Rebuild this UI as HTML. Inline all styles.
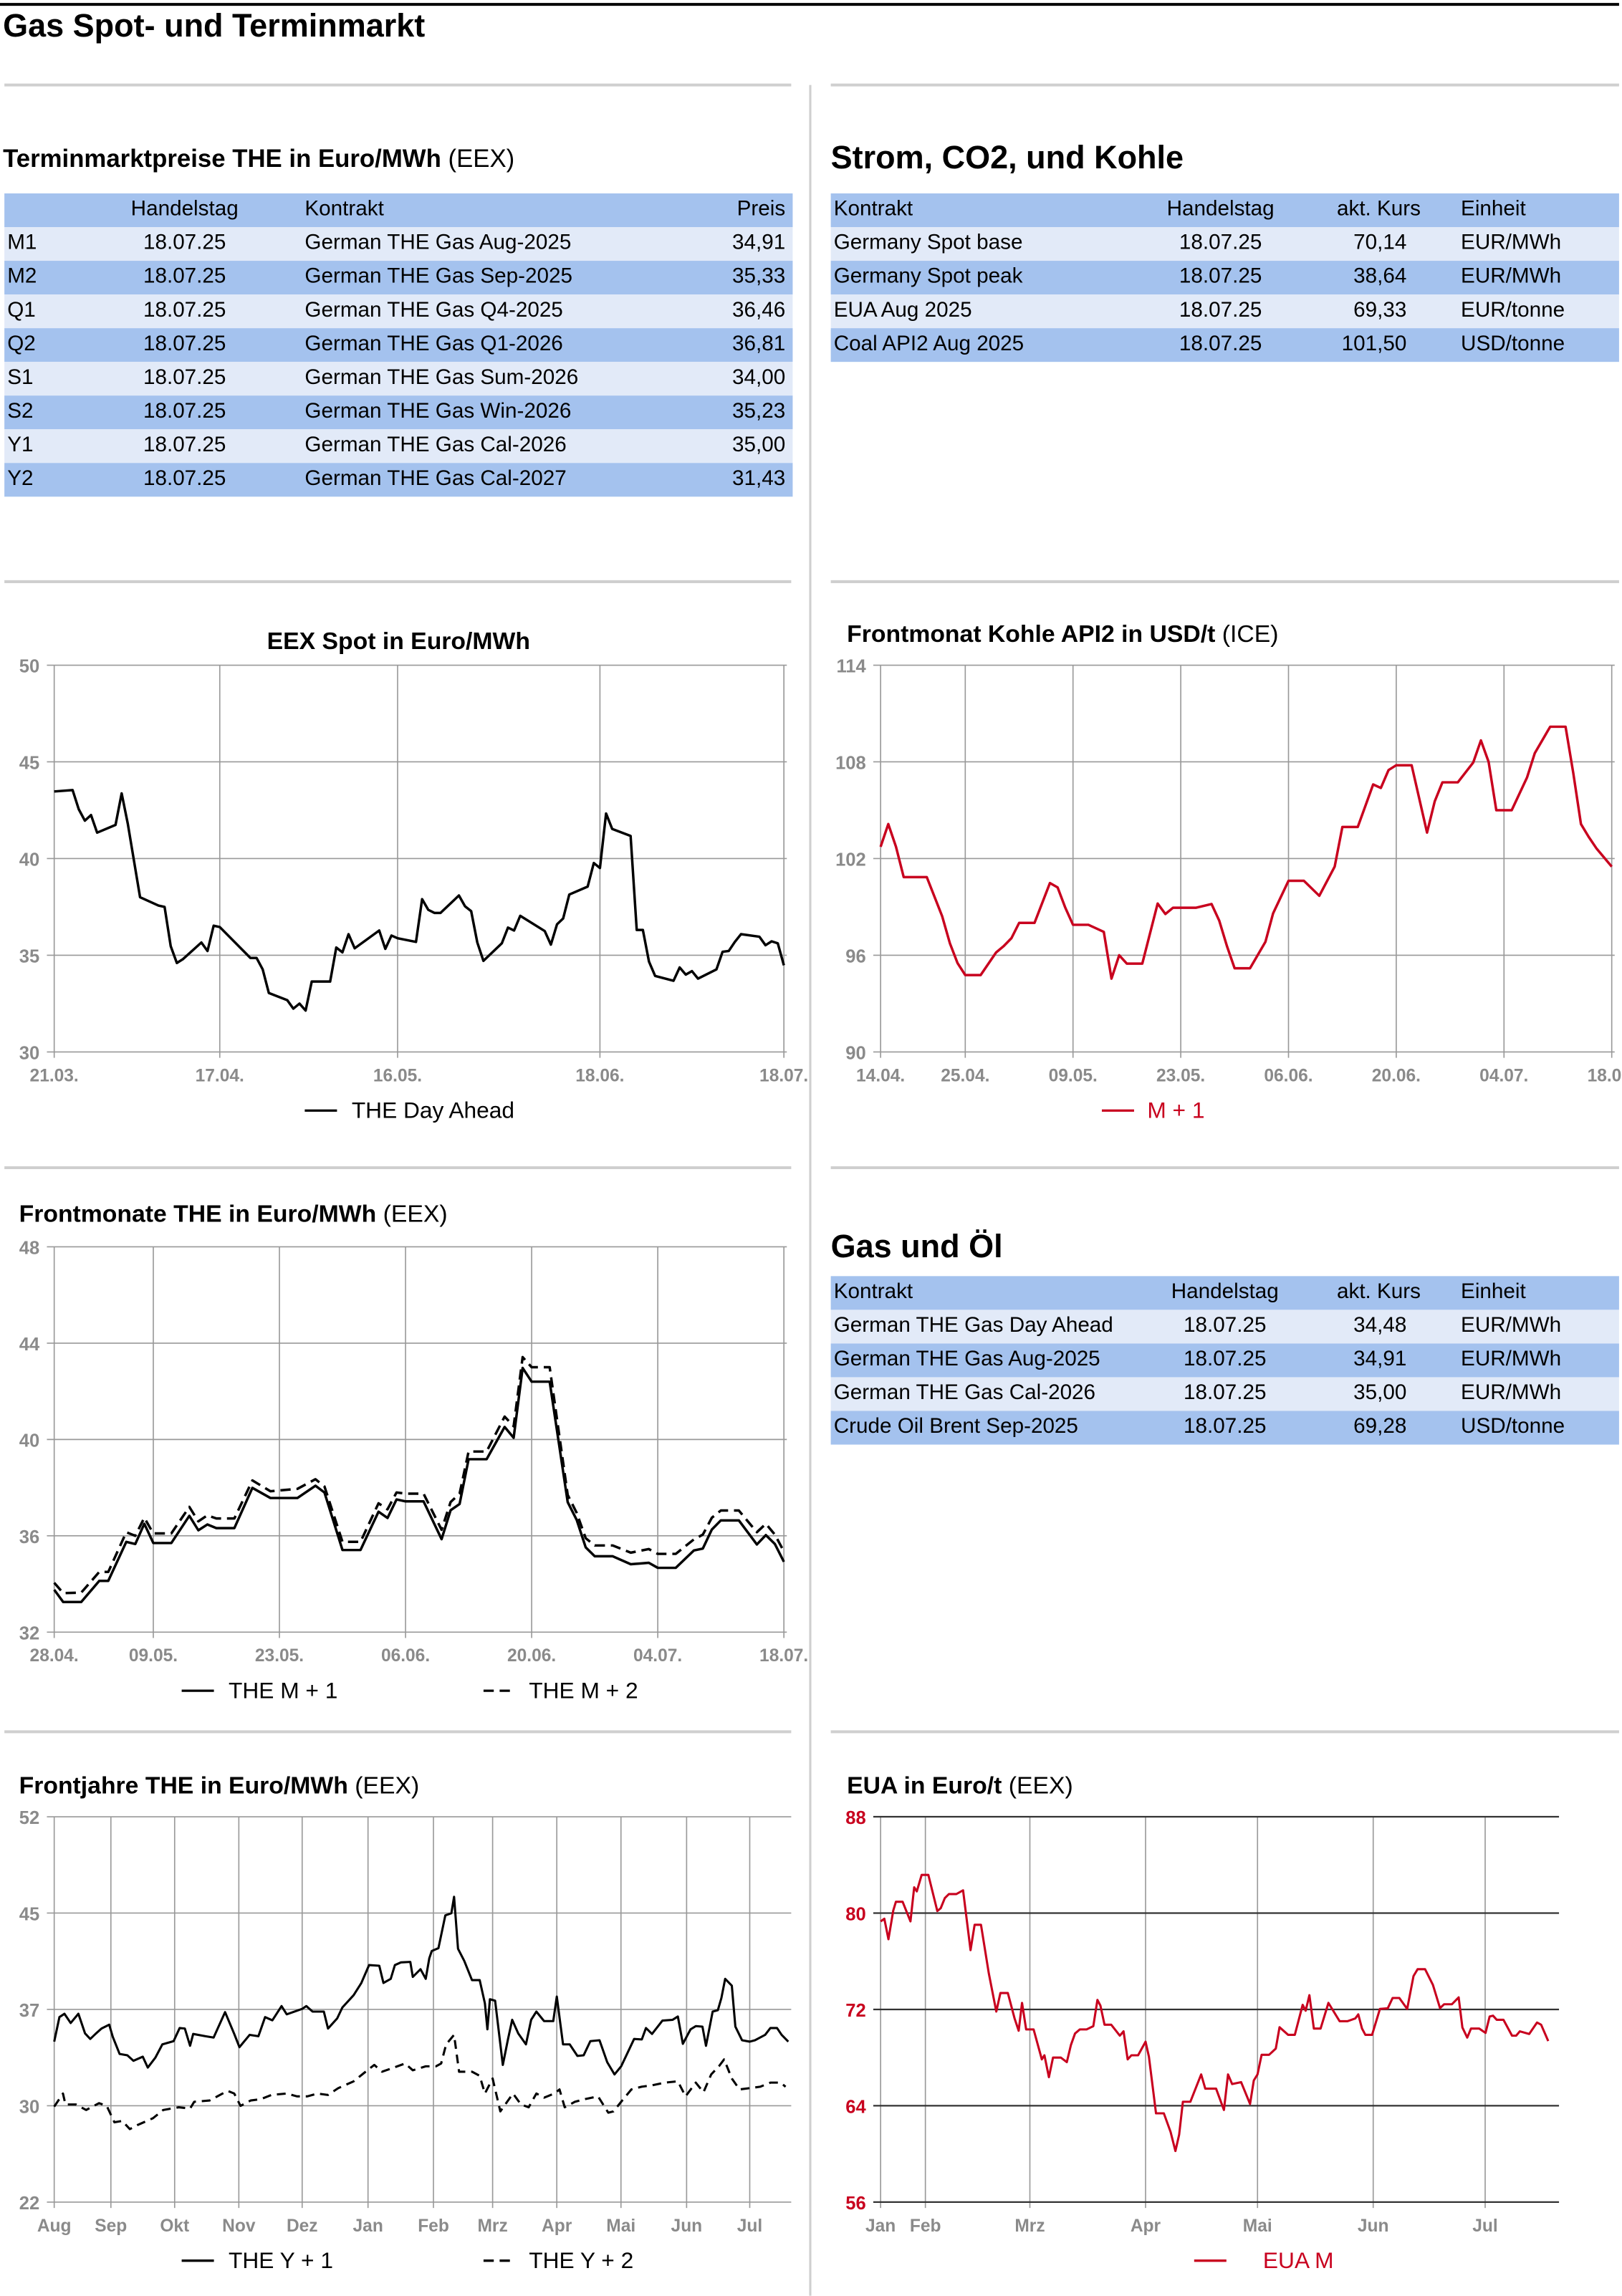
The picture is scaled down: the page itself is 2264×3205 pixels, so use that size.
<!DOCTYPE html>
<html><head><meta charset="utf-8">
<style>
html,body{margin:0;padding:0;background:#fff;}
body{width:2264px;height:3204px;overflow:hidden;position:relative;}
#root{position:absolute;left:0;top:0;width:1107px;height:1567px;transform:scale(2.04517);transform-origin:0 0;font-family:"Liberation Sans",sans-serif;color:#000;}
.t{position:absolute;white-space:nowrap;}
.row{position:absolute;height:23px;line-height:23px;font-size:14.5px;}
.row span{position:absolute;top:0;white-space:nowrap;}
.hb{background:#a4c2ee;}
.lb{background:#e2eaf8;}
.c{transform:translateX(-50%);}
.r{transform:translateX(-100%);}
svg text{font-family:"Liberation Sans",sans-serif;}
</style></head>
<body>
<div id="root">
<svg id="chart-svg" width="1107" height="1567" viewBox="0 0 1107 1567" style="position:absolute;left:0;top:0">
  <line x1="0" y1="3" x2="1105" y2="3" stroke="#000" stroke-width="2"/>
  <g stroke="#cfcfcf" stroke-width="2">
    <line x1="3" y1="58" x2="540" y2="58"/><line x1="567" y1="58" x2="1105" y2="58"/>
    <line x1="3" y1="397" x2="540" y2="397"/><line x1="567" y1="397" x2="1105" y2="397"/>
    <line x1="3" y1="797" x2="540" y2="797"/><line x1="567" y1="797" x2="1105" y2="797"/>
    <line x1="3" y1="1182" x2="540" y2="1182"/><line x1="567" y1="1182" x2="1105" y2="1182"/>
    <line x1="553" y1="58" x2="553" y2="1567" stroke-width="1.5"/>
  </g>
  <g id="charts"></g>
</svg>

<div class="t" style="left:2px;top:5px;font-size:22px;font-weight:bold">Gas Spot- und Terminmarkt</div>

<div class="t" style="left:2px;top:99px;font-size:17px"><b>Terminmarktpreise THE in Euro/MWh</b> (EEX)</div>
<div>
<div class="row hb" style="left:3px;top:132px;width:538px"><span class="c" style="left:123px">Handelstag</span><span style="left:205px">Kontrakt</span><span class="r" style="left:533px">Preis</span></div>
<div class="row lb" style="left:3px;top:155px;width:538px"><span style="left:2px">M1</span><span class="c" style="left:123px">18.07.25</span><span style="left:205px">German THE Gas Aug-2025</span><span class="r" style="left:533px">34,91</span></div>
<div class="row hb" style="left:3px;top:178px;width:538px"><span style="left:2px">M2</span><span class="c" style="left:123px">18.07.25</span><span style="left:205px">German THE Gas Sep-2025</span><span class="r" style="left:533px">35,33</span></div>
<div class="row lb" style="left:3px;top:201px;width:538px"><span style="left:2px">Q1</span><span class="c" style="left:123px">18.07.25</span><span style="left:205px">German THE Gas Q4-2025</span><span class="r" style="left:533px">36,46</span></div>
<div class="row hb" style="left:3px;top:224px;width:538px"><span style="left:2px">Q2</span><span class="c" style="left:123px">18.07.25</span><span style="left:205px">German THE Gas Q1-2026</span><span class="r" style="left:533px">36,81</span></div>
<div class="row lb" style="left:3px;top:247px;width:538px"><span style="left:2px">S1</span><span class="c" style="left:123px">18.07.25</span><span style="left:205px">German THE Gas Sum-2026</span><span class="r" style="left:533px">34,00</span></div>
<div class="row hb" style="left:3px;top:270px;width:538px"><span style="left:2px">S2</span><span class="c" style="left:123px">18.07.25</span><span style="left:205px">German THE Gas Win-2026</span><span class="r" style="left:533px">35,23</span></div>
<div class="row lb" style="left:3px;top:293px;width:538px"><span style="left:2px">Y1</span><span class="c" style="left:123px">18.07.25</span><span style="left:205px">German THE Gas Cal-2026</span><span class="r" style="left:533px">35,00</span></div>
<div class="row hb" style="left:3px;top:316px;width:538px"><span style="left:2px">Y2</span><span class="c" style="left:123px">18.07.25</span><span style="left:205px">German THE Gas Cal-2027</span><span class="r" style="left:533px">31,43</span></div>
</div>

<div class="t" style="left:567px;top:95px;font-size:22px;font-weight:bold">Strom, CO2, und Kohle</div>
<div>
<div class="row hb" style="left:567px;top:132px;width:538px"><span style="left:2px">Kontrakt</span><span class="c" style="left:266px">Handelstag</span><span class="c" style="left:374px">akt. Kurs</span><span style="left:430px">Einheit</span></div>
<div class="row lb" style="left:567px;top:155px;width:538px"><span style="left:2px">Germany Spot base</span><span class="c" style="left:266px">18.07.25</span><span class="r" style="left:393px">70,14</span><span style="left:430px">EUR/MWh</span></div>
<div class="row hb" style="left:567px;top:178px;width:538px"><span style="left:2px">Germany Spot peak</span><span class="c" style="left:266px">18.07.25</span><span class="r" style="left:393px">38,64</span><span style="left:430px">EUR/MWh</span></div>
<div class="row lb" style="left:567px;top:201px;width:538px"><span style="left:2px">EUA Aug 2025</span><span class="c" style="left:266px">18.07.25</span><span class="r" style="left:393px">69,33</span><span style="left:430px">EUR/tonne</span></div>
<div class="row hb" style="left:567px;top:224px;width:538px"><span style="left:2px">Coal API2 Aug 2025</span><span class="c" style="left:266px">18.07.25</span><span class="r" style="left:393px">101,50</span><span style="left:430px">USD/tonne</span></div>
</div>

<div class="t" style="left:567px;top:838px;font-size:22px;font-weight:bold">Gas und Öl</div>
<div>
<div class="row hb" style="left:567px;top:871px;width:538px"><span style="left:2px">Kontrakt</span><span class="c" style="left:269px">Handelstag</span><span class="c" style="left:374px">akt. Kurs</span><span style="left:430px">Einheit</span></div>
<div class="row lb" style="left:567px;top:894px;width:538px"><span style="left:2px">German THE Gas Day Ahead</span><span class="c" style="left:269px">18.07.25</span><span class="r" style="left:393px">34,48</span><span style="left:430px">EUR/MWh</span></div>
<div class="row hb" style="left:567px;top:917px;width:538px"><span style="left:2px">German THE Gas Aug-2025</span><span class="c" style="left:269px">18.07.25</span><span class="r" style="left:393px">34,91</span><span style="left:430px">EUR/MWh</span></div>
<div class="row lb" style="left:567px;top:940px;width:538px"><span style="left:2px">German THE Gas Cal-2026</span><span class="c" style="left:269px">18.07.25</span><span class="r" style="left:393px">35,00</span><span style="left:430px">EUR/MWh</span></div>
<div class="row hb" style="left:567px;top:963px;width:538px"><span style="left:2px">Crude Oil Brent Sep-2025</span><span class="c" style="left:269px">18.07.25</span><span class="r" style="left:393px">69,28</span><span style="left:430px">USD/tonne</span></div>
</div>

<div class="t" style="left:272px;top:429px;font-size:16.5px;font-weight:bold;transform:translateX(-50%)">EEX Spot in Euro/MWh</div>
<div class="t" style="left:578px;top:424px;font-size:16.5px"><b>Frontmonat Kohle API2 in USD/t</b> (ICE)</div>
<div class="t" style="left:13px;top:820px;font-size:16.5px"><b>Frontmonate THE in Euro/MWh</b> (EEX)</div>
<div class="t" style="left:13px;top:1210px;font-size:16.5px"><b>Frontjahre THE in Euro/MWh</b> (EEX)</div>
<div class="t" style="left:578px;top:1210px;font-size:16.5px"><b>EUA in Euro/t</b> (EEX)</div>
</div>

<script>
// ---- EEX Spot (days since 21.03) ----
const spotDays = [0,3,4,5,6,7,10,11,12,14,17,18,19,20,21,24,25,26,27,32,33,34,35,38,39,40,41,42,45,46,47,48,49,53,54,55,56,59,60,61,62,63,66,67,68,69,70,73,74,75,76,80,81,82,83,84,87,88,89,90,91,94,95,96,97,98,101,102,103,104,105,108,109,110,111,112,115,116,117,118,119];
const spotVals = [43.47,43.54,42.55,41.96,42.25,41.34,41.74,43.37,41.8,38.0,37.57,37.5,35.47,34.6,34.8,35.66,35.22,36.53,36.46,34.86,34.86,34.27,33.05,32.68,32.24,32.5,32.14,33.64,33.64,35.4,35.15,36.09,35.36,36.28,35.33,36.02,35.88,35.69,37.9,37.35,37.19,37.19,38.09,37.53,37.28,35.66,34.71,35.62,36.43,36.28,37.04,36.25,35.55,36.6,36.9,38.14,38.55,39.77,39.51,42.33,41.53,41.17,36.31,36.31,34.67,33.93,33.68,34.37,34.0,34.18,33.79,34.27,35.18,35.22,35.69,36.09,35.96,35.52,35.72,35.62,34.48];
const spotTickDays = [0,27,56,89,119];
const spotTickLabels = ["21.03.","17.04.","16.05.","18.06.","18.07."];
const spotYTicks = [30,35,40,45,50];

// ---- Coal API2 (days since 14.04) ----
const coalDays = [0,1,2,3,6,8,9,10,11,13,15,16,17,18,20,22,23,24,25,27,29,30,31,32,34,36,37,38,41,43,44,45,46,48,50,51,53,55,57,59,60,62,64,65,66,67,69,71,72,73,75,77,78,79,80,82,84,85,87,89,90,91,92,93,95];
const coalVals = [102.73,104.14,102.73,100.85,100.85,98.42,96.75,95.51,94.77,94.77,96.17,96.57,97.06,98.01,98.01,100.48,100.21,98.95,97.89,97.89,97.45,94.55,96.0,95.48,95.48,99.21,98.56,98.95,98.95,99.18,98.15,96.57,95.19,95.19,96.83,98.6,100.62,100.62,99.69,101.5,103.96,103.96,106.6,106.38,107.49,107.79,107.79,103.61,105.55,106.73,106.73,107.96,109.33,108.0,105.0,105.0,107.04,108.54,110.18,110.18,107.31,104.14,103.35,102.64,101.5];
const coalTickDays = [0,11,25,39,53,67,81,95];
const coalTickLabels = ["14.04.","25.04.","09.05.","23.05.","06.06.","20.06.","04.07.","18.07."];
const coalYTicks = [90,96,102,108,114];

// ---- Frontmonate (days since 28.04) ----
const fmDays = [0,1,3,5,6,8,9,10,11,13,15,16,17,18,20,22,24,27,29,30,32,34,36,37,38,39,41,43,44,45,46,48,50,51,52,53,55,57,58,59,60,62,64,66,67,69,71,72,73,74,76,78,79,80,81];
const fmM1 = [33.76,33.25,33.25,34.13,34.13,35.75,35.66,36.5,35.7,35.7,36.83,36.23,36.47,36.32,36.32,37.99,37.57,37.57,38.08,37.8,35.41,35.41,37.0,36.74,37.51,37.43,37.43,35.86,37.06,37.32,39.18,39.18,40.52,40.07,42.97,42.4,42.4,37.4,36.66,35.52,35.15,35.15,34.82,34.88,34.67,34.67,35.39,35.47,36.26,36.64,36.64,35.64,36.03,35.66,34.92];
const fmM2 = [34.05,33.62,33.64,34.5,34.5,36.15,36.0,36.75,36.1,36.1,37.2,36.6,36.85,36.72,36.72,38.3,37.85,37.95,38.35,38.05,35.75,35.75,37.35,37.1,37.8,37.75,37.75,36.25,37.4,37.75,39.5,39.5,40.95,40.55,43.42,43.0,43.0,37.7,36.95,35.9,35.6,35.6,35.3,35.45,35.25,35.25,35.85,36.05,36.75,37.05,37.05,36.15,36.5,36.05,35.35];
const fmTickDays = [0,11,25,39,53,67,81];
const fmTickLabels = ["28.04.","09.05.","23.05.","06.06.","20.06.","04.07.","18.07."];
const fmYTicks = [32,36,40,44,48];

// ---- Frontjahre (days since 01.08.) ----
const fyDays1 = [0,2.5,4.9,7.9,11.6,14.8,17.3,19.8,22.7,26.4,28.1,31.4,35.1,38,42.5,44.9,48.6,51.9,57.3,60.2,62.7,65.2,66.7,72.6,76.5,82,86.4,88.9,93.8,98,101.2,104.7,109.1,111.6,119,121,124,129.4,131.4,135.8,138.3,143.7,147.4,151.1,156,158,161.5,163.5,166.4,170.9,172.1,175.8,178.3,180,181.2,184.4,187.7,190.6,191.9,193.8,196.8,200.5,204.2,206.7,207.9,209.1,211.6,215.3,217.8,219.8,222.7,226.4,228.9,231.4,235.1,239.5,241.2,244.2,247.4,251.1,254.1,257.3,261.7,265.4,268.9,272.1,278.3,282,284,286.9,291.9,296.8,299.3,301.7,305.4,307.9,311.1,312.8,316,318.5,320.2,322,325.2,326.9,330.1,333.8,336.3,341.2,343.7,346.9,349.1,352.3];
const fyY1 = [34.49,36.4,36.66,35.94,36.66,35.13,34.7,35.09,35.51,35.81,34.87,33.53,33.43,33.0,33.32,32.47,33.26,34.28,34.53,35.55,35.51,34.17,35.09,34.91,34.81,36.79,35.09,34.06,35.02,34.91,36.4,36.15,37.26,36.62,37.04,37.26,36.83,36.83,35.51,36.3,37.15,38.11,39.06,40.45,40.4,39.06,39.38,40.45,40.66,40.7,39.53,40.13,39.38,40.98,41.55,41.77,44.32,44.49,45.77,41.72,40.77,39.28,39.28,37.47,35.45,37.79,37.68,32.68,34.7,36.19,35.13,34.28,36.19,36.83,36.09,36.09,38.0,34.28,34.28,33.38,33.43,34.53,34.6,32.89,31.94,32.57,34.7,34.66,35.55,35.09,36.13,36.19,36.45,34.32,35.45,35.7,35.66,34.17,36.83,36.94,37.89,39.38,38.85,35.66,34.6,34.49,34.6,35.02,35.55,35.55,35.02,34.49];
const fyDays2 = [0,4.2,5.4,10.4,15.3,21.5,25.2,28.9,32.6,36.3,40,47.4,52.3,59.8,65.2,67.2,74.6,83.2,86.4,89.4,94.3,99.3,104.2,111.6,116.5,121.5,126.4,131.4,136.3,143.7,148.6,153.6,157.3,161,168.4,172.1,178.3,183.2,185.7,188.1,191.9,194.3,200.5,204.2,206.7,210.4,214.1,217.8,220.2,224,227.7,231.4,235.1,240,242.5,245,249.9,254.8,261,265.9,268.4,272.1,277,281.9,286.9,293,299.3,303,307.9,311.6,315.3,319,321.5,325.2,328.9,333.8,338.8,343.7,348.6,351];
const fyY2 = [29.43,30.45,29.6,29.6,29.17,29.7,29.49,28.21,28.32,27.68,28.0,28.53,29.17,29.38,29.28,29.81,29.91,30.66,30.45,29.49,29.91,30.02,30.34,30.45,30.23,30.23,30.45,30.34,30.87,31.4,32.04,32.68,32.15,32.36,32.79,32.26,32.57,32.57,32.79,34.28,35.02,32.15,32.15,31.83,30.45,31.62,29.06,29.91,30.45,29.6,29.38,30.45,30.13,30.45,30.77,29.38,29.81,30.02,30.23,28.96,29.06,29.81,30.77,30.98,31.09,31.3,31.4,30.23,31.3,30.55,31.94,32.57,33.11,31.62,30.77,30.87,30.98,31.3,31.3,30.98];
const fyTickDays = [0,27.2,57.8,88.6,119,150.6,182,210.4,241.2,272,303.5,333.8];
const fyTickLabels = ["Aug","Sep","Okt","Nov","Dez","Jan","Feb","Mrz","Apr","Mai","Jun","Jul"];
const fyYTicks = [22,29.5,37,44.5,52];
const fyYLabels = ["22","30","37","45","52"];

// ---- EUA (days since chart start) ----
const euaDays = [0,1,2.1,3.4,4.1,5.9,8,9,9.7,11,12.8,15.2,16.1,17.2,18.3,20.3,22.1,24.1,25.2,26.9,29,31,32.1,34.1,35.9,37,37.9,39,41,43.2,43.9,45.1,46.2,48.3,49.9,51,52.1,53.4,55.2,57,58.1,58.9,60,61.8,64.1,65.1,66.2,67.2,69,71,71.9,73.8,75.9,77.7,79,80,81,83,85.9,87,89.9,92,93.1,94.2,96.6,99,100,101,102.1,104.1,105.9,106.9,109.2,111,113.1,113.9,114.9,116.1,117.9,120,123,125.1,127.2,128,129,129.9,131.7,133.8,135.9,137.2,139,141.1,142.8,143.9,145.9,148,149.9,151,153.1,154.9,155.9,157.2,158.2,160.4,162.1,163.2,164.1,165.1,166.9,169.2,170.3,171.3,173.8,175.9,177,178.9];
const euaVals = [79.31,79.53,77.83,80.22,80.94,80.94,79.31,82.14,81.8,83.17,83.17,80.17,80.4,81.24,81.58,81.58,81.89,76.92,79.03,79.03,74.99,71.82,73.36,73.36,71.25,70.23,72.54,70.34,70.34,67.85,68.19,66.37,68.0,68.0,67.62,69.05,70.0,70.34,70.34,70.61,72.79,72.32,70.73,70.73,69.82,70.18,67.85,68.19,68.19,69.32,68.07,63.37,63.37,61.83,60.24,61.6,64.33,64.33,66.6,65.42,65.42,63.65,66.6,65.8,65.96,64.15,66.1,66.6,68.23,68.23,68.75,70.52,69.89,69.89,72.38,71.89,73.18,70.41,70.41,72.54,71.02,71.02,71.25,71.59,70.41,69.89,69.89,72.04,72.09,72.95,72.95,72.04,74.77,75.34,75.34,74.04,72.11,72.43,72.43,73.0,70.5,69.66,70.41,70.41,70.05,71.41,71.48,71.14,71.14,69.82,69.82,70.18,69.96,70.91,70.73,69.37];
const euaTickDays = [0,12,40,71,101,132,162];
const euaTickLabels = ["Jan","Feb","Mrz","Apr","Mai","Jun","Jul"];
const euaYTicks = [56,64,72,80,88];

const NS = "http://www.w3.org/2000/svg";
const root = document.getElementById("charts");
function mk(tag, attrs, parent) {
  const e = document.createElementNS(NS, tag);
  for (const k in attrs) e.setAttribute(k, attrs[k]);
  parent.appendChild(e);
  return e;
}
function scale(d0, d1, r0, r1) { return v => r0 + (v - d0) / (d1 - d0) * (r1 - r0); }

function chart(c) {
  const g = mk("g", {}, root);
  
  
  const x = scale(c.xDom[0], c.xDom[1], c.x0, c.x1);
  const y = scale(c.yTicks[0], c.yTicks[c.yTicks.length - 1], c.y1, c.y0);
  c.xTickDays.forEach((d, i) => {
    const gl = mk("line", {x1: x(d), x2: x(d), y1: c.y0, y2: c.y1 + 4, stroke: "#999", "stroke-width": 0.8}, g);
    
    
    const t = mk("text", {x: x(d), y: c.y1 + 20, "text-anchor": "middle", "font-size": 12, "font-weight": "bold", fill: "#8a8a8a"}, g);
    t.textContent = c.xTickLabels[i];
    
    
  });
  c.yTicks.forEach((v, i) => {
    const gl = mk("line", {x1: c.x0 - 5, x2: c.xEnd || c.x1 + 2, y1: y(v), y2: y(v), stroke: c.hGridColor || "#999", "stroke-width": c.hGridW || 0.8}, g);
    
    
    const t = mk("text", {x: c.x0 - 10, y: y(v) + 5, "text-anchor": "end", "font-size": 12.5, "font-weight": "bold", fill: c.yLabelColor || "#8a8a8a"}, g);
    t.textContent = c.yLabels ? c.yLabels[i] : String(v);
    
    
  });
  c.series.forEach(s => {
    const n = Math.min(s.days.length, s.vals.length);
    let d = "";
    for (let i = 0; i < n; i++) d += (i ? "L" : "M") + x(s.days[i]).toFixed(2) + "," + y(s.vals[i]).toFixed(2);
    const p = mk("path", {d: d, fill: "none", stroke: s.color, "stroke-width": s.w || 1.7, "stroke-linejoin": "round"}, g);
    if (s.dash) p.setAttribute("stroke-dasharray", s.dash);
    
    
  });
  c.legend.forEach(l => {
    const ln = mk("line", {x1: l.lx, x2: l.lx + 22, y1: c.legY - 4, y2: c.legY - 4, stroke: l.color, "stroke-width": 1.6}, g);
    if (l.dash) ln.setAttribute("stroke-dasharray", "7,4");
    
    
    const t = mk("text", {x: l.tx, y: c.legY + 1, "font-size": 15.5, fill: l.color}, g);
    t.textContent = l.label;
    
    
  });
}

chart({name: "eex-spot-chart", x0: 37, x1: 535, y0: 454, y1: 718, xDom: [0, 119], yTicks: spotYTicks,
  xTickDays: spotTickDays, xTickLabels: spotTickLabels, legY: 762,
  series: [{name: "the-day-ahead-line", days: spotDays, vals: spotVals, color: "#000"}],
  legend: [{lx: 208, tx: 240, label: "THE Day Ahead", color: "#000"}]});

chart({name: "coal-chart", x0: 601, x1: 1100, y0: 454, y1: 718, xDom: [0, 95], yTicks: coalYTicks,
  xTickDays: coalTickDays, xTickLabels: coalTickLabels, legY: 762,
  series: [{name: "coal-m1-line", days: coalDays, vals: coalVals, color: "#c8001e"}],
  legend: [{lx: 752, tx: 783, label: "M + 1", color: "#c8001e"}]});

chart({name: "front-months-chart", x0: 37, x1: 535, y0: 851, y1: 1114, xDom: [0, 81], yTicks: fmYTicks,
  xTickDays: fmTickDays, xTickLabels: fmTickLabels, legY: 1158,
  series: [{name: "the-m2-line", days: fmDays, vals: fmM2, color: "#000", dash: "7,4"},
           {name: "the-m1-line", days: fmDays, vals: fmM1, color: "#000"}],
  legend: [{lx: 124, tx: 156, label: "THE M + 1", color: "#000"}, {lx: 330, tx: 361, label: "THE M + 2", color: "#000", dash: true}]});

chart({name: "front-years-chart", x0: 37, x1: 538, y0: 1240, y1: 1503, xDom: [0, 352.3], yTicks: fyYTicks, yLabels: fyYLabels,
  xTickDays: fyTickDays, xTickLabels: fyTickLabels, legY: 1547,
  series: [{name: "the-y2-line", days: fyDays2, vals: fyY2, color: "#000", dash: "6,4", w: 1.5},
           {name: "the-y1-line", days: fyDays1, vals: fyY1, color: "#000", w: 1.5}],
  legend: [{lx: 124, tx: 156, label: "THE Y + 1", color: "#000"}, {lx: 330, tx: 361, label: "THE Y + 2", color: "#000", dash: true}]});

chart({name: "eua-chart", x0: 601, x1: 1062, y0: 1240, y1: 1503, xDom: [0, 181], yTicks: euaYTicks,
  xTickDays: euaTickDays, xTickLabels: euaTickLabels, legY: 1547, hGridColor: "#333", hGridW: 1.1, yLabelColor: "#c8001e",
  series: [{name: "eua-m-line", days: euaDays, vals: euaVals, color: "#c8001e", w: 1.5}],
  legend: [{lx: 815, tx: 862, label: "EUA M", color: "#c8001e"}]});
</script>
</body></html>
